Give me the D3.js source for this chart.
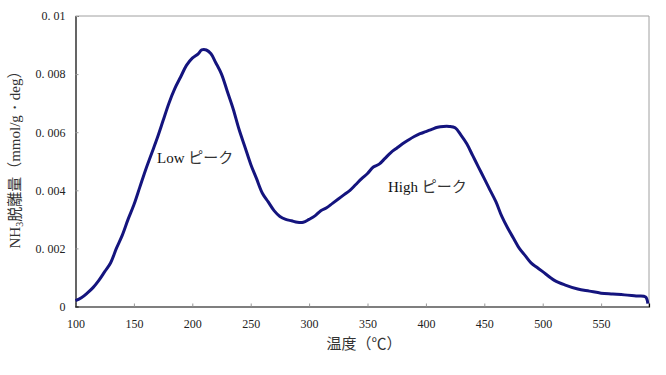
<!DOCTYPE html>
<html><head><meta charset="utf-8">
<script src="https://cdn.jsdelivr.net/npm/d3@7"></script>
<style>
html,body{margin:0;padding:0;background:#fff;}
svg{display:block;}
</style></head>
<body>
<svg id="chart" width="666" height="375"></svg>
<script>
const temps = [100,105,110,115,120,125,130,135,140,145,150,155,160,165,170,175,180,185,190,195,200,205,208,212,216,220,225,230,235,240,245,250,255,260,265,270,275,280,285,290,295,300,305,310,315,320,325,330,335,340,345,350,355,360,365,370,375,380,385,390,395,400,405,410,415,420,425,430,435,440,445,450,455,460,465,470,475,480,485,490,495,500,510,520,530,540,550,560,570,580,588,590];
const values = [0.0002,0.0003,0.00046,0.00065,0.0009,0.0012,0.0015,0.0020,0.00245,0.0030,0.0035,0.0041,0.0047,0.00525,0.0058,0.0064,0.0070,0.0075,0.0079,0.0083,0.00855,0.0087,0.00883,0.00883,0.0087,0.0084,0.0080,0.0074,0.0068,0.0061,0.0055,0.0049,0.0044,0.0039,0.0036,0.0033,0.0031,0.0030,0.00295,0.0029,0.0029,0.0030,0.00312,0.0033,0.0034,0.00355,0.0037,0.00385,0.0040,0.0042,0.0044,0.00458,0.0048,0.0049,0.0051,0.0053,0.00545,0.0056,0.00573,0.00585,0.00595,0.00602,0.0061,0.00617,0.0062,0.0062,0.00615,0.0059,0.0056,0.0052,0.0048,0.0044,0.0040,0.0036,0.0031,0.0027,0.00235,0.0020,0.00175,0.0015,0.00135,0.0012,0.0009,0.00073,0.0006,0.00053,0.00046,0.00043,0.0004,0.00036,0.00033,0.0001];
const xTicks = [100,150,200,250,300,350,400,450,500,550];
const yTicks = [0,0.002,0.004,0.006,0.008,0.01];
const yTickLabels = ["0","0. 002","0. 004","0. 006","0. 008","0. 01"];
const xTitle = "温度（℃）";
const annotations = [
  {x:157, y:163, latin:"Low", kana:"ピーク"},
  {x:388, y:192, latin:"High", kana:"ピーク"}
];

const svg = d3.select("#chart");
const L = 75.5, R = 649, T = 16, B = 306.5;
const x = d3.scaleLinear().domain([100, 591]).range([L, R]);
const y = d3.scaleLinear().domain([0, 0.01]).range([B, T]);

// plot border (top & right gray)
svg.append("path")
  .attr("d", `M${L},${T}H${R}V${B}`)
  .attr("fill","none").attr("stroke","#a0a0a0").attr("stroke-width",1);

// y axis
const yAxis = d3.axisLeft(y).tickValues(yTicks).tickSize(-3).tickPadding(10)
  .tickFormat((d,i)=>yTickLabels[i]);
const gy = svg.append("g").attr("transform",`translate(${L},0)`).call(yAxis);
gy.select(".domain").attr("stroke","#000").attr("stroke-width",1.2);
gy.selectAll(".tick line").attr("stroke","#999");
gy.selectAll(".tick text").attr("font-family","'Liberation Serif',serif").attr("font-size",12).attr("fill","#222");

// x axis
const xAxis = d3.axisBottom(x).tickValues(xTicks).tickSize(-3).tickPadding(13)
  .tickFormat(d3.format("d"));
const gx = svg.append("g").attr("transform",`translate(0,${B})`).call(xAxis);
gx.select(".domain").attr("stroke","#000").attr("stroke-width",1.2);
gx.selectAll(".tick line").attr("stroke","#999");
gx.selectAll(".tick text").attr("font-family","'Liberation Serif',serif").attr("font-size",12).attr("fill","#222");

// line
const line = d3.line().x((d,i)=>x(temps[i])).y(d=>y(d)).curve(d3.curveCatmullRom.alpha(0.5));
svg.append("path").datum(values)
  .attr("d", line)
  .attr("fill","none").attr("stroke","#14147e").attr("stroke-width",3)
  .attr("stroke-linejoin","round");

// x title
svg.append("text").attr("x",364).attr("y",349).attr("text-anchor","middle")
  .attr("font-family","'Noto Sans CJK JP',sans-serif").attr("font-size",15).attr("fill","#333")
  .text(xTitle);

// y title
const yt = svg.append("text").attr("transform","translate(20,156) rotate(-90)")
  .attr("text-anchor","middle").attr("font-size",15).attr("fill","#333");
yt.append("tspan").attr("font-family","'Liberation Serif',serif").text("NH");
yt.append("tspan").attr("font-family","'Liberation Serif',serif").attr("font-size",10).attr("dy",3).text("3");
yt.append("tspan").attr("font-family","'Noto Sans CJK JP',sans-serif").attr("dy",-3).text("脱離量（");
yt.append("tspan").attr("font-family","'Liberation Serif',serif").text("mmol/g・deg");
yt.append("tspan").attr("font-family","'Noto Sans CJK JP',sans-serif").text("）");

// annotations
annotations.forEach(a=>{
  const t = svg.append("text").attr("x",a.x).attr("y",a.y).attr("font-size",15).attr("fill","#111");
  t.append("tspan").attr("font-family","'Liberation Serif',serif").text(a.latin+" ");
  t.append("tspan").attr("font-family","'Noto Sans CJK JP',sans-serif").attr("fill","#333").text(a.kana);
});
</script>
</body></html>
